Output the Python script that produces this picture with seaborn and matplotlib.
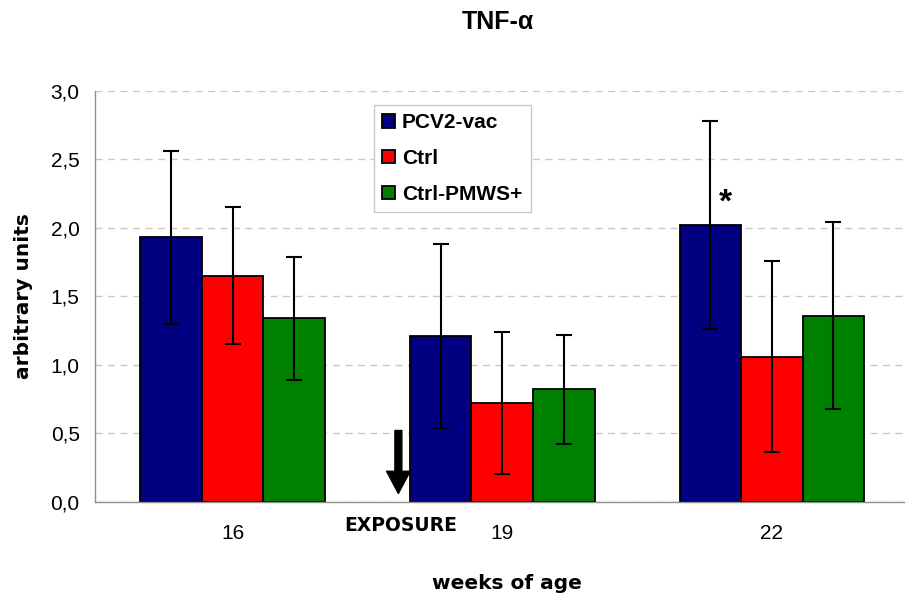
import matplotlib
matplotlib.use("Agg")
import matplotlib.pyplot as plt
import seaborn as sns
import pandas as pd
from matplotlib.ticker import FuncFormatter, FixedLocator

# values
weeks = ["16", "19", "22"]
groups = ["PCV2-vac", "Ctrl", "Ctrl-PMWS+"]
mean_vac = [1.93, 1.21, 2.02]
mean_ctrl = [1.65, 0.72, 1.06]
mean_pmws = [1.34, 0.82, 1.36]
sd_vac = [0.63, 0.67, 0.76]
sd_ctrl = [0.50, 0.52, 0.70]
sd_pmws = [0.45, 0.40, 0.68]
colors = ["#000080", "#FF0000", "#008000"]

df = pd.DataFrame({
    "week": weeks * 3,
    "group": [g for g in groups for _ in weeks],
    "value": mean_vac + mean_ctrl + mean_pmws,
})

sns.set_style("white")
plt.rcParams["font.family"] = ["Liberation Sans", "DejaVu Sans"]
plt.rcParams["text.color"] = "black"
plt.rcParams["axes.labelcolor"] = "black"
plt.rcParams["xtick.color"] = "black"
plt.rcParams["ytick.color"] = "black"

fig = plt.figure(figsize=(9.12, 5.97), dpi=100)
ax = fig.add_axes([95 / 912, 1 - 501.7 / 597, 809 / 912, 410.7 / 597])

sns.barplot(
    data=df, x="week", y="value", hue="group", order=weeks, hue_order=groups,
    palette=colors, errorbar=None, width=0.685, edgecolor="black",
    linewidth=1.3, saturation=1, ax=ax,
)

# error bars on top of each bar
for cont, sds in zip(ax.containers, [sd_vac, sd_ctrl, sd_pmws]):
    for bar, sd in zip(cont, sds):
        ax.errorbar(bar.get_x() + bar.get_width() / 2, bar.get_height(), yerr=sd,
                    fmt="none", ecolor="black", elinewidth=1.5, capsize=5.5,
                    capthick=1.5, zorder=5)

# significance mark above PCV2-vac at week 22
b22 = ax.containers[0][2]
ax.text(b22.get_x() + b22.get_width() / 2 + 0.055, 2.18, "*", ha="center",
        va="center", fontsize=24, fontweight="bold", zorder=6)

# exposure arrow between week 16 and 19
ax.annotate("", xy=(0.615, 0.06), xytext=(0.615, 0.52),
            arrowprops=dict(facecolor="black", edgecolor="black", width=5,
                            headwidth=17, headlength=16, shrink=0))
ax.text(0.622, -0.171, "EXPOSURE", ha="center", va="center", fontsize=13.5,
        fontweight="bold", family="DejaVu Sans", clip_on=False)

ax.set_ylim(0, 3.0)
ax.set_xlim(-0.51, 2.49)
ax.set_yticks([0, 0.5, 1.0, 1.5, 2.0, 2.5, 3.0])
ax.yaxis.set_major_formatter(FuncFormatter(lambda v, p: f"{v:.1f}".replace(".", ",")))
ax.xaxis.set_minor_locator(FixedLocator([-0.5, 0.5, 1.5, 2.5]))
ax.tick_params(axis="x", which="major", length=0, pad=16, labelsize=15)
ax.tick_params(axis="x", which="minor", length=7, width=1, color="#909090")
ax.tick_params(axis="y", length=7, width=1, color="#909090", labelsize=15, pad=4)

ax.grid(True, axis="y", color="#c8c8c8", linestyle=(0, (5, 4)), linewidth=1)
ax.set_axisbelow(True)
for side in ["top", "right"]:
    ax.spines[side].set_visible(False)
for side in ["left", "bottom"]:
    ax.spines[side].set_color("#909090")
    ax.spines[side].set_linewidth(1)

ax.set_xlabel("weeks of age", fontsize=14.5, fontweight="bold",
              family="DejaVu Sans", va="center")
ax.xaxis.set_label_coords(0.509, -0.198)
ax.set_ylabel("arbitrary units", fontsize=14.5, fontweight="bold",
              family="DejaVu Sans", va="center", ha="center")
ax.yaxis.set_label_coords(-0.0878, 0.5)

handles, labels = ax.get_legend_handles_labels()
leg = ax.legend(handles, labels, loc="upper left",
                bbox_to_anchor=(374 / 912, 1 - 105 / 597),
                bbox_transform=fig.transFigure, borderaxespad=0,
                prop={"weight": "bold", "size": 15}, handlelength=0.6,
                handleheight=0.6, handletextpad=0.35, labelspacing=0.8,
                borderpad=0.4, fancybox=False, framealpha=1,
                edgecolor="#c8c8c8", title=None)

fig.text(497.5 / 912, 1 - 22 / 597, "TNF-α", ha="center", va="center",
         fontsize=18, fontweight="bold")

fig.savefig("out.png", dpi=100)
